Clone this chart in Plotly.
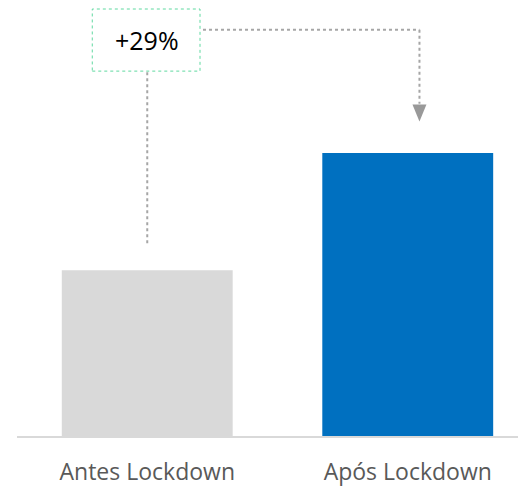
import plotly.graph_objects as go

categories = ["Antes Lockdown", "Após Lockdown"]
values = [100, 129]
bar_colors = ["#d9d9d9", "#0070c0"]
change_label = "+{:.0f}%".format((values[1] / values[0] - 1) * 100)

y_min, y_max = 59.06, 164.84

fig = go.Figure()
fig.add_trace(go.Bar(x=[0, 1], y=values, marker=dict(color=bar_colors, line=dict(width=0)),
                     width=0.656, hoverinfo="skip"))

line_style = dict(color="#a6a6a6", width=2, dash="dot")
box_top, box_bot = 164.59, 149.24
arrow_x = 1.045
y_h = 159.47
# vertical from box to first bar
fig.add_shape(type="line", x0=0, x1=0, y0=box_bot - 0.3, y1=values[0] + 6.34, line=line_style)
# horizontal from box towards bar 2, then down
fig.add_shape(type="line", x0=0.214, x1=arrow_x, y0=y_h, y1=y_h, line=line_style)
fig.add_shape(type="line", x0=arrow_x, x1=arrow_x, y0=y_h, y1=values[1] + 12.19, line=line_style)
# arrow head (pixel-sized, anchored at its tip)
fig.add_shape(type="path", xsizemode="pixel", ysizemode="pixel",
              xanchor=arrow_x, yanchor=values[1] + 7.81,
              path="M-7,17 L7,17 L0,0 Z", fillcolor="#999999", line=dict(width=0))
# box
fig.add_shape(type="rect", x0=-0.211, x1=0.2025, y0=box_bot, y1=box_top,
              line=dict(color="#5fd9a0", width=1, dash="dot"), fillcolor="white")
fig.add_annotation(x=0, y=(box_top + box_bot) / 2, text=change_label, showarrow=False,
                   font=dict(family="Open Sans", size=25, color="#000000"))

fig.update_layout(
    width=518, height=479,
    margin=dict(l=9, r=0, t=0, b=45),
    paper_bgcolor="white", plot_bgcolor="white",
    showlegend=False,
    font=dict(family="Open Sans"),
    xaxis=dict(range=[-0.5, 1.454], tickvals=[0, 1], ticktext=categories,
               showgrid=False, zeroline=False, showline=True, linecolor="#d9d9d9", linewidth=2,
               ticks="", ticklabelstandoff=14,
               tickfont=dict(family="Open Sans", size=23, color="#595959")),
    yaxis=dict(range=[y_min, y_max], visible=False, showgrid=False, zeroline=False),
)

fig.write_html("out.html")
